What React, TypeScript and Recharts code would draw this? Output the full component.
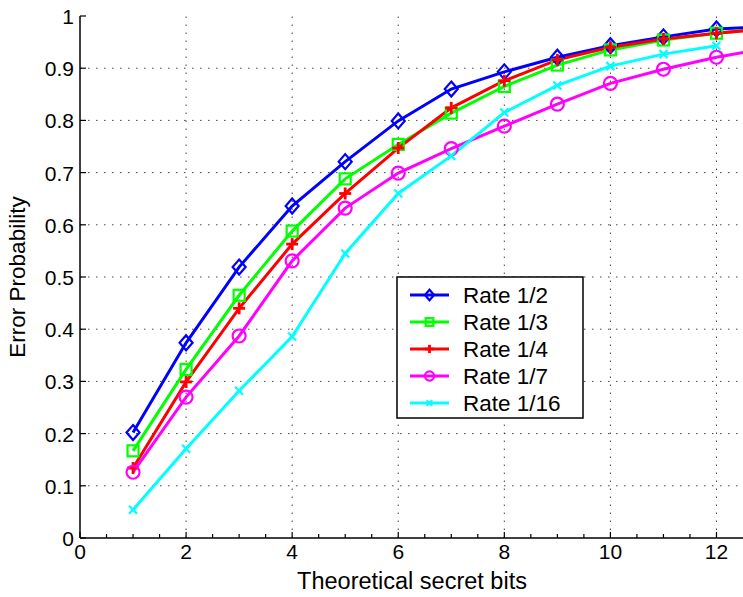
import { LineChart, Line, XAxis, YAxis, ReferenceLine } from 'recharts';

const FONT = '"Liberation Sans", Arial, Helvetica, sans-serif';

// theoretical secret bits (13 is only there so the lines run out to the clipped right edge)
const bits = [1, 2, 3, 4, 5, 6, 7, 8, 9, 10, 11, 12, 13];
const rateHalf = [0.202, 0.374, 0.519, 0.636, 0.721, 0.799, 0.86, 0.893, 0.921, 0.943, 0.96, 0.975, 0.98];
const rateThird = [0.167, 0.323, 0.465, 0.588, 0.688, 0.754, 0.814, 0.865, 0.906, 0.935, 0.954, 0.967, 0.977];
const rateQuarter = [0.134, 0.299, 0.44, 0.563, 0.66, 0.747, 0.824, 0.876, 0.916, 0.94, 0.956, 0.967, 0.976];
const rateSeventh = [0.126, 0.27, 0.387, 0.531, 0.632, 0.699, 0.746, 0.789, 0.831, 0.871, 0.898, 0.921, 0.939];
const rateSixteenth = [0.054, 0.171, 0.282, 0.386, 0.545, 0.66, 0.732, 0.815, 0.867, 0.904, 0.927, 0.943, null];

const xTicks = [0, 0.5, 1, 1.5, 2, 2.5, 3, 3.5, 4, 4.5, 5, 5.5, 6, 6.5, 7, 7.5, 8, 8.5, 9, 9.5, 10, 10.5, 11, 11.5, 12];
const xGrid = [2, 4, 6, 8, 10, 12];
const yTicks = [0, 0.1, 0.2, 0.3, 0.4, 0.5, 0.6, 0.7, 0.8, 0.9, 1];
const yGrid = [0.1, 0.2, 0.3, 0.4, 0.5, 0.6, 0.7, 0.8, 0.9];

const series = [
  { key: 'r2', name: 'Rate 1/2', color: '#0000ff', marker: 'diamond', values: rateHalf },
  { key: 'r3', name: 'Rate 1/3', color: '#00ff00', marker: 'square', values: rateThird },
  { key: 'r4', name: 'Rate 1/4', color: '#ff0000', marker: 'plus', values: rateQuarter },
  { key: 'r7', name: 'Rate 1/7', color: '#ff00ff', marker: 'circle', values: rateSeventh },
  { key: 'r16', name: 'Rate 1/16', color: '#00ffff', marker: 'cross', values: rateSixteenth },
];

const data = bits.map((b, i) => {
  const row: any = { x: b };
  series.forEach(s => { row[s.key] = s.values[i]; });
  return row;
});

function Marker({ kind, cx, cy, color, k = 1 }: any) {
  if (kind === 'diamond') {
    const w = 6.5 * k, h = 7.5 * k;
    return <polygon points={`${cx},${cy - h} ${cx + w},${cy} ${cx},${cy + h} ${cx - w},${cy}`} fill="none" stroke={color} strokeWidth={2.2} />;
  }
  if (kind === 'square') {
    const s = 5.5 * k;
    return <rect x={cx - s} y={cy - s} width={2 * s} height={2 * s} fill="none" stroke={color} strokeWidth={2.2} />;
  }
  if (kind === 'plus') {
    const s = 6 * k;
    return (
      <g stroke={color} strokeWidth={2.8}>
        <line x1={cx - s} x2={cx + s} y1={cy} y2={cy} />
        <line x1={cx} x2={cx} y1={cy - s} y2={cy + s} />
      </g>
    );
  }
  if (kind === 'circle') {
    return <circle cx={cx} cy={cy} r={6.5 * k} fill="none" stroke={color} strokeWidth={2.2} />;
  }
  const s = 4 * k;
  return (
    <g stroke={color} strokeWidth={2.2}>
      <line x1={cx - s} x2={cx + s} y1={cy - s} y2={cy + s} />
      <line x1={cx - s} x2={cx + s} y1={cy + s} y2={cy - s} />
    </g>
  );
}

const makeDot = (kind: string, color: string) => (p: any) => {
  const { cx, cy, payload, index } = p;
  if (cx == null || cy == null || payload.x > 12.5 || p.value == null) return <g key={index} />;
  return <g key={index}><Marker kind={kind} cx={cx} cy={cy} color={color} /></g>;
};

const BottomTick = ({ x, y, payload }: any) => {
  const v = payload.value;
  const major = v % 2 === 0;
  return (
    <g>
      <line x1={x} x2={x} y1={y} y2={y - (major ? 6 : 4)} stroke="#000" strokeWidth={1.2} />
      {major && (
        <text x={x} y={y + 21} textAnchor="middle" fontSize={21} fontFamily={FONT} fill="#000">{v}</text>
      )}
    </g>
  );
};

const TopTick = ({ x, y, payload }: any) => {
  const major = payload.value % 2 === 0;
  return <line x1={x} x2={x} y1={y} y2={y + (major ? 6 : 4)} stroke="#000" strokeWidth={1.2} />;
};

const LeftTick = ({ x, y, payload }: any) => (
  <g>
    <line x1={x} x2={x + 6} y1={y} y2={y} stroke="#000" strokeWidth={1.2} />
    <text x={x - 6} y={y + 8} textAnchor="end" fontSize={21} fontFamily={FONT} fill="#000">
      {String(Math.round(payload.value * 10) / 10)}
    </text>
  </g>
);

function LegendBox() {
  return (
    <svg width={188} height={143} style={{ position: 'absolute', left: 396, top: 276 }}>
      <rect x={1} y={1} width={186} height={141} fill="#fff" stroke="#000" strokeWidth={1.5} />
      {series.map((s, i) => {
        const cy = 19 + i * 27;
        return (
          <g key={s.key}>
            <line x1={14} x2={53} y1={cy} y2={cy} stroke={s.color} strokeWidth={3} />
            <Marker kind={s.marker} cx={33.5} cy={cy} color={s.color} k={0.7} />
            <text x={67} y={cy + 8} fontSize={22.5} fontFamily={FONT} fill="#000">{s.name}</text>
          </g>
        );
      })}
    </svg>
  );
}

export default function App() {
  return (
    <div style={{ position: 'absolute', left: 0, top: 0, width: 743, height: 597, background: '#fff' }}>
      <LineChart width={743} height={597} data={data} margin={{ top: 16, right: 0, bottom: 0, left: 0 }}>
        <XAxis
          type="number" dataKey="x" domain={[0, 12.5]} allowDataOverflow ticks={xTicks} interval={0}
          height={59} tickSize={0} tickMargin={0} tickLine={false} tick={<BottomTick />}
          axisLine={{ stroke: '#000', strokeWidth: 1.5 }}
        />
        <XAxis
          xAxisId="top" orientation="top" type="number" dataKey="x" domain={[0, 12.5]} allowDataOverflow
          ticks={xTicks} interval={0} height={0} tickSize={0} tickMargin={0} tickLine={false}
          tick={<TopTick />} axisLine={{ stroke: '#000', strokeWidth: 1.5 }}
        />
        <YAxis
          type="number" domain={[0, 1]} ticks={yTicks} interval={0} width={80}
          tickSize={0} tickMargin={0} tickLine={false} tick={<LeftTick />}
          axisLine={{ stroke: '#000', strokeWidth: 1.5 }}
        />
        {xGrid.map(v => (
          <ReferenceLine key={'gx' + v} x={v} stroke="#444" strokeWidth={1} strokeDasharray="1.5 6.5" />
        ))}
        {yGrid.map(v => (
          <ReferenceLine key={'gy' + v} y={v} stroke="#444" strokeWidth={1} strokeDasharray="1.5 6.5" />
        ))}
        {series.map(s => (
          <Line
            key={s.key} dataKey={s.key} name={s.name} stroke={s.color} strokeWidth={3}
            dot={makeDot(s.marker, s.color)} activeDot={false} isAnimationActive={false}
            connectNulls={false}
          />
        ))}
        <text x={412} y={589} textAnchor="middle" fontSize={23.5} fontFamily={FONT} fill="#000">
          Theoretical secret bits
        </text>
        <text
          x={25} y={277} textAnchor="middle" fontSize={22.5} fontFamily={FONT} fill="#000"
          transform="rotate(-90 25 277)"
        >
          Error Probability
        </text>
      </LineChart>
      <LegendBox />
    </div>
  );
}
